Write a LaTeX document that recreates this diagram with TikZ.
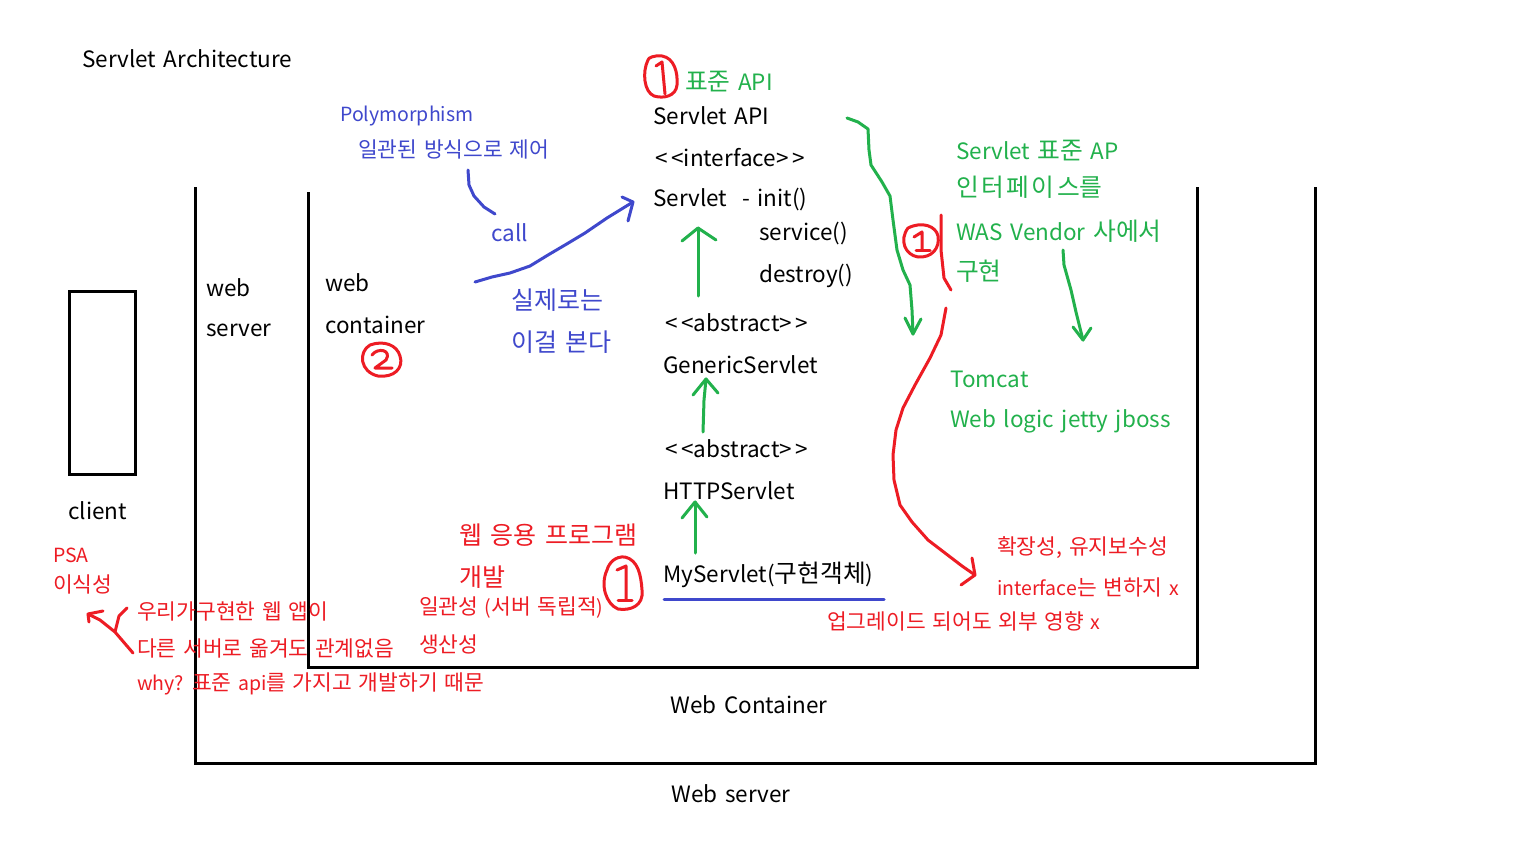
\documentclass[tikz,border=0pt]{standalone}
\usepackage{fontspec}
\setmainfont[WordSpace=1.5]{Noto Sans CJK KR}
\newfontfamily\kr[Scale=1.1,WordSpace=1.4]{Noto Sans CJK KR}
\newfontfamily\krw[Scale=1.1,LetterSpace=10]{Noto Sans CJK KR}
\begin{document}
\begin{tikzpicture}[x=1pt,y=-1pt,
  lbl/.style={anchor=west,inner sep=0pt,font=\fontsize{22.5}{26}\selectfont},
  sml/.style={anchor=west,inner sep=0pt,font=\fontsize{19.5}{23}\selectfont},
  big/.style={anchor=west,inner sep=0pt,font=\fontsize{25}{29}\selectfont},
  cen/.style={anchor=center,inner sep=0pt,font=\fontsize{22.5}{26}\selectfont},
  frame/.style={draw=black,line width=3pt},
  pen/.style={line width=3pt,line cap=round,line join=round},
  gpen/.style={pen,draw=grn},
  rpen/.style={pen,draw=rd},
  bpen/.style={pen,draw=blu}]
\definecolor{grn}{RGB}{34,177,76}
\definecolor{rd}{RGB}{237,28,36}
\definecolor{blu}{RGB}{63,72,204}
\useasboundingbox[fill=white] (0,0) rectangle (1536,851);

% frames
\draw[frame] (195,187) -- (195,763) -- (1315,763) -- (1315,187);
\draw[frame] (308,192) -- (308,667) -- (1197,667) -- (1197,187);
\draw[frame] (69,291) rectangle (135,474);

% black texts
\node[lbl] (title) at (82,59) {Servlet Architecture};
\node[lbl] (ws1) at (206,288) {web};
\node[lbl] (ws2) at (206,330) {server};
\node[lbl] (wc1) at (325,283) {web};
\node[lbl] (wc2) at (325,325) {container};
\node[lbl] (client) at (68,511) {client};
\node[cen] (wclabel) at (749,705) {Web Container};
\node[cen] (wslabel) at (731,794) {Web server};
\node[lbl] (sapi) at (653,116) {Servlet API};
\node[lbl] (iface) at (655,158) {<\,<interface>\,>};
\node[lbl] (servlet) at (653,200) {Servlet\ \ - init()};
\node[lbl] (service) at (759,234) {service()};
\node[lbl] (destroy) at (759,276) {destroy()};
\node[lbl] (abs1) at (665,323) {<\,<abstract>\,>};
\node[lbl] (gen) at (663,365) {GenericServlet};
\node[lbl] (abs2) at (665,449) {<\,<abstract>\,>};
\node[lbl] (http) at (663,491) {HTTPServlet};
\node[lbl] (my) at (663,575) {MyServlet({\kr 구현객체})};

% green texts
\node[lbl,text=grn] (std) at (685,82) {{\kr 표준} API};
\node[lbl,text=grn] (g1) at (956,151) {Servlet {\kr 표준} AP};
\node[lbl,text=grn] (g2) at (956,187) {{\krw 인터페이스}{\kr 를}};
\node[lbl,text=grn] (g3) at (956,231) {WAS Vendor {\kr 사에서}};
\node[lbl,text=grn] (g4) at (956,271) {{\kr 구현}};
\node[lbl,text=grn] (tom) at (950,379) {Tomcat};
\node[lbl,text=grn] (wl) at (950,421) {Web logic jetty jboss};

% blue texts
\node[sml,text=blu] (poly) at (340,116) {Polymorphism};
\node[sml,text=blu] (ctrl) at (358,149) {\kr 일관된 방식으로 제어};
\node[lbl,text=blu] (call) at (491,233) {call};
\node[big,text=blu] (real1) at (511,300) {실제로는};
\node[big,text=blu] (real2) at (511,342) {이걸 본다};

% red texts
\node[sml,text=rd] (r1) at (997,548) {\kr 확장성, 유지보수성};
\node[sml,text=rd] (r2) at (997,587) {interface{\kr 는 변하지} x};
\node[sml,text=rd] (r3) at (827,621) {{\kr 업그레이드 되어도 외부 영향} x};
\node[big,text=rd] (dev1) at (459,535) {웹 응용 프로그램};
\node[big,text=rd] (dev2) at (459,577) {개발};
\node[sml,text=rd] (c1) at (419,608) {{\kr 일관성} ({\kr 서버 독립적})};
\node[sml,text=rd] (c2) at (419,644) {\kr 생산성};
\node[sml,text=rd] (psa) at (53,555) {PSA};
\node[sml,text=rd] (port) at (53,584) {\kr 이식성};
\node[sml,text=rd] (p1) at (137,611) {\kr 우리가구현한 웹 앱이};
\node[sml,text=rd] (p2) at (137,648) {\kr 다른 서버로 옮겨도 관계없음};
\node[sml,text=rd] (p3) at (137,684) {why? {\kr 표준} api{\kr 를 가지고 개발하기 때문}};

% blue underline
\coordinate (ul1) at (664,599);
\coordinate (ul2) at (884,599);
\draw[bpen] (ul1) -- (ul2);

% green inheritance arrows
\coordinate (a1s) at (698,296); \coordinate (a1t) at (698,228);
\draw[gpen] (a1s) -- (a1t);
\draw[gpen] (682,241) -- (a1t) -- (716,240);
\coordinate (a2s) at (703,432); \coordinate (a2t) at (706,379);
\draw[gpen] (a2s) -- (704,400) -- (a2t);
\draw[gpen] (693,395) -- (a2t) -- (718,393);
\coordinate (a3s) at (695,553); \coordinate (a3t) at (695,502);
\draw[gpen] (a3s) -- (a3t);
\draw[gpen] (682,518) -- (a3t) -- (707,517);

% green curve from Servlet API down
\coordinate (gc1) at (847,118);
\coordinate (gc2) at (913,334);
\draw[gpen] (gc1) -- (858,122) -- (868,129) -- (869,150) -- (871,165) -- (882,182) -- (890,196) -- (893,220) -- (897,250) -- (903,270) -- (910,285) -- (912,310) -- (gc2);
\draw[gpen] (905,318) -- (gc2) -- (921,319);

% green arrow from WAS vendor
\coordinate (gv1) at (1063,250);
\coordinate (gv2) at (1083,340);
\draw[gpen] (gv1) -- (1064,265) -- (1071,290) -- (1076,312) -- (1080,328) -- (gv2);
\draw[gpen] (1073,327) -- (gv2) -- (1091,328);

% red bracket and curve
\coordinate (rb1) at (941,215);
\coordinate (rb2) at (951,290);
\draw[rpen] (rb1) -- (941,250) -- (944,278) -- (rb2);
\coordinate (rc1) at (946,308);
\coordinate (rc2) at (975,575);
\draw[rpen] (rc1) -- (941,335) -- (930,358) -- (915,385) -- (903,408) -- (896,430) -- (893,455) -- (894,480) -- (900,505) -- (912,522) -- (928,540) -- (945,553) -- (962,566) -- (rc2);
\draw[rpen] (972,558) -- (rc2) -- (961,585);

% blue curve from Polymorphism
\coordinate (bp1) at (468,170);
\coordinate (bp2) at (495,214);
\draw[bpen] (bp1) -- (469,185) -- (474,196) -- (484,207) -- (bp2);

% blue call arrow
\coordinate (bc1) at (475,282);
\coordinate (bc2) at (633,202);
\draw[bpen] (bc1) -- (492,277) -- (510,273) -- (530,266) -- (548,255) -- (565,245) -- (585,233) -- (607,218) -- (bc2);
\draw[bpen] (622,197) -- (bc2) -- (628,221);

% red PSA arrow
\coordinate (pa1) at (133,653);
\coordinate (pa2) at (88,614);
\coordinate (pam) at (115,632);
\draw[rpen] (pa1) -- (pam) -- (100,620) -- (pa2);
\draw[rpen] (89,622) -- (pa2) -- (103,611);
\draw[rpen] (pam) -- (119,616) -- (127,608);

% red circled numbers
\draw[rpen] (648,60) .. controls (642,72) and (644,92) .. (654,96) .. controls (664,99) and (676,96) .. (677,85) .. controls (678,72) and (674,58) .. (662,56) .. controls (654,55) and (648,58) .. (648,60);
\draw[rpen] (656,66) -- (662,62) -- (665,94);
\draw[rpen] (908,228) .. controls (899,240) and (905,255) .. (918,257) .. controls (932,258) and (940,248) .. (938,236) .. controls (936,226) and (922,221) .. (908,228);
\draw[rpen] (914,237) -- (922,232) -- (922,250);
\draw[rpen] (916,250) -- (930,250);
\draw[rpen] (370,345) .. controls (358,352) and (360,372) .. (378,376) .. controls (394,378) and (404,368) .. (400,356) .. controls (397,345) and (384,340) .. (370,345);
\draw[rpen] (372,355) .. controls (378,347) and (392,350) .. (386,360) -- (375,368) -- (392,368);
\draw[rpen] (607,570) .. controls (600,585) and (606,604) .. (618,609) .. controls (630,611) and (644,606) .. (642,590) .. controls (641,575) and (638,560) .. (625,557) .. controls (615,556) and (609,563) .. (607,570);
\draw[rpen] (617,570) -- (626,566) -- (626,600);
\draw[rpen] (618,600) -- (632,600);
\end{tikzpicture}
\end{document}
